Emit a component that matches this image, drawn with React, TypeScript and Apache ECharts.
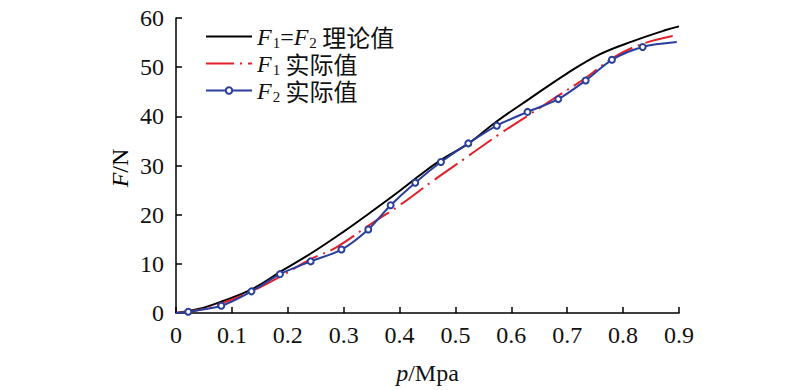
import React, { useEffect, useRef } from "react";
import * as echarts from "echarts";

const theoryX = [0, 0.04, 0.083, 0.137, 0.19, 0.244, 0.298, 0.346, 0.394, 0.435, 0.471, 0.525, 0.573, 0.633, 0.698, 0.758, 0.818, 0.878, 0.9];
const theoryY = [0, 0.8, 2.4, 4.9, 8.6, 12.3, 16.4, 20.3, 24.3, 27.9, 30.9, 34.6, 38.9, 43.6, 48.6, 52.6, 55.3, 57.6, 58.3];

const f1X = [0, 0.04, 0.08, 0.135, 0.185, 0.24, 0.286, 0.346, 0.4, 0.46, 0.519, 0.579, 0.629, 0.68, 0.734, 0.782, 0.836, 0.896];
const f1Y = [0, 0.6, 1.9, 4.4, 7.3, 10.9, 13.3, 17.9, 21.9, 26.9, 31.6, 36.4, 40.1, 43.9, 47.9, 51.9, 54.8, 56.5];

const f2X = [0, 0.022, 0.081, 0.135, 0.186, 0.241, 0.296, 0.344, 0.384, 0.428, 0.474, 0.523, 0.574, 0.629, 0.684, 0.733, 0.78, 0.835, 0.896];
const f2Y = [0, 0.26, 1.47, 4.4, 7.9, 10.5, 12.9, 17, 21.9, 26.5, 30.7, 34.5, 38.1, 40.9, 43.5, 47.3, 51.5, 54.1, 55.1];

const seriesNames = ["F1=F2 理论值", "F1 实际值", "F2 实际值"];
const legendRich = [
  "{i|F}{s|1}{t|=}{i|F}{s|2}{c| 理论值}",
  "{i|F}{s|1}{c| 实际值}",
  "{i|F}{s|2}{c| 实际值}",
];
const xTicks = [0, 0.9, 0.1];
const yTicks = [0, 60, 10];

const SERIF = "'Liberation Serif', 'DejaVu Serif', serif";
const CJK = "'Noto Sans CJK SC', sans-serif";

export default function App() {
  const ref = useRef<HTMLDivElement>(null);
  useEffect(() => {
    document.body.style.margin = "0";
    const chart = echarts.init(ref.current!, null, { renderer: "svg" });
    const richStyles = {
      i: { fontFamily: SERIF, fontStyle: "italic", fontSize: 24, color: "#111", lineHeight: 24 },
      t: { fontFamily: SERIF, fontSize: 24, color: "#111", lineHeight: 24 },
      s: { fontFamily: SERIF, fontSize: 15, color: "#111", lineHeight: 2, padding: [12, 0, 0, 1] },
      c: { fontFamily: CJK, fontSize: 24, color: "#111", lineHeight: 24 },
      n: { fontFamily: SERIF, fontSize: 24, color: "#111" },
      ni: { fontFamily: SERIF, fontStyle: "italic", fontSize: 24, color: "#111" },
    };
    const mk = (xs: number[], ys: number[]) => xs.map((x, k) => [x, ys[k]]);
    const f2Data = mk(f2X, f2Y).map((p, k) =>
      k === 0 || k === f2X.length - 1 ? { value: p, symbol: "none" } : { value: p }
    );
    chart.setOption({
      animation: false,
      backgroundColor: "#fff",
      grid: { left: 176, right: 121, top: 18, bottom: 72, containLabel: false },
      legend: {
        orient: "vertical",
        left: 200,
        top: 18,
        itemGap: 0,
        itemWidth: 46,
        itemHeight: 8,
        data: [
          { name: seriesNames[0], itemStyle: { opacity: 0 } },
          { name: seriesNames[1], itemStyle: { opacity: 0 } },
          { name: seriesNames[2] },
        ],
        formatter: (name: string) => legendRich[seriesNames.indexOf(name)],
        textStyle: { rich: richStyles },
      },
      xAxis: {
        type: "value",
        min: xTicks[0],
        max: xTicks[1],
        interval: xTicks[2],
        name: "{ni|p}{n|/Mpa}",
        nameLocation: "middle",
        nameGap: 48,
        nameTextStyle: { rich: richStyles },
        axisLine: { lineStyle: { color: "#000", width: 1.5 } },
        axisTick: { inside: true, length: 6, lineStyle: { color: "#000", width: 1.5 } },
        axisLabel: {
          fontFamily: SERIF,
          fontSize: 24,
          color: "#111",
          margin: 10,
          formatter: (v: number) => (v === 0 ? "0" : v.toFixed(1)),
        },
        splitLine: { show: false },
      },
      yAxis: {
        type: "value",
        min: yTicks[0],
        max: yTicks[1],
        interval: yTicks[2],
        axisLine: { show: true, lineStyle: { color: "#000", width: 1.5 } },
        axisTick: { show: true, inside: true, length: 6, lineStyle: { color: "#000", width: 1.5 } },
        axisLabel: { fontFamily: SERIF, fontSize: 24, color: "#111", margin: 12 },
        splitLine: { show: false },
      },
      graphic: [
        {
          type: "text",
          x: 120,
          y: 168,
          rotation: Math.PI / 2,
          style: {
            text: "{ni|F}{n|/N}",
            rich: richStyles,
            align: "center",
            verticalAlign: "middle",
          },
        },
      ],
      series: [
        {
          name: seriesNames[0],
          type: "line",
          data: mk(theoryX, theoryY),
          smooth: 0.4,
          symbol: "none",
          lineStyle: { color: "#000", width: 2 },
          itemStyle: { color: "#000" },
        },
        {
          name: seriesNames[1],
          type: "line",
          data: mk(f1X, f1Y),
          smooth: 0.4,
          symbol: "none",
          lineStyle: { color: "#e3202a", width: 2, type: [28, 6, 2, 6] },
          itemStyle: { color: "#e3202a" },
        },
        {
          name: seriesNames[2],
          type: "line",
          data: f2Data,
          smooth: 0.3,
          symbol: "emptyCircle",
          symbolSize: 6,
          lineStyle: { color: "#2a3f9c", width: 2 },
          itemStyle: { color: "#2a3f9c", borderWidth: 1.5 },
        },
      ],
    });
    return () => chart.dispose();
  }, []);
  return <div ref={ref} style={{ width: 800, height: 390 }} />;
}
